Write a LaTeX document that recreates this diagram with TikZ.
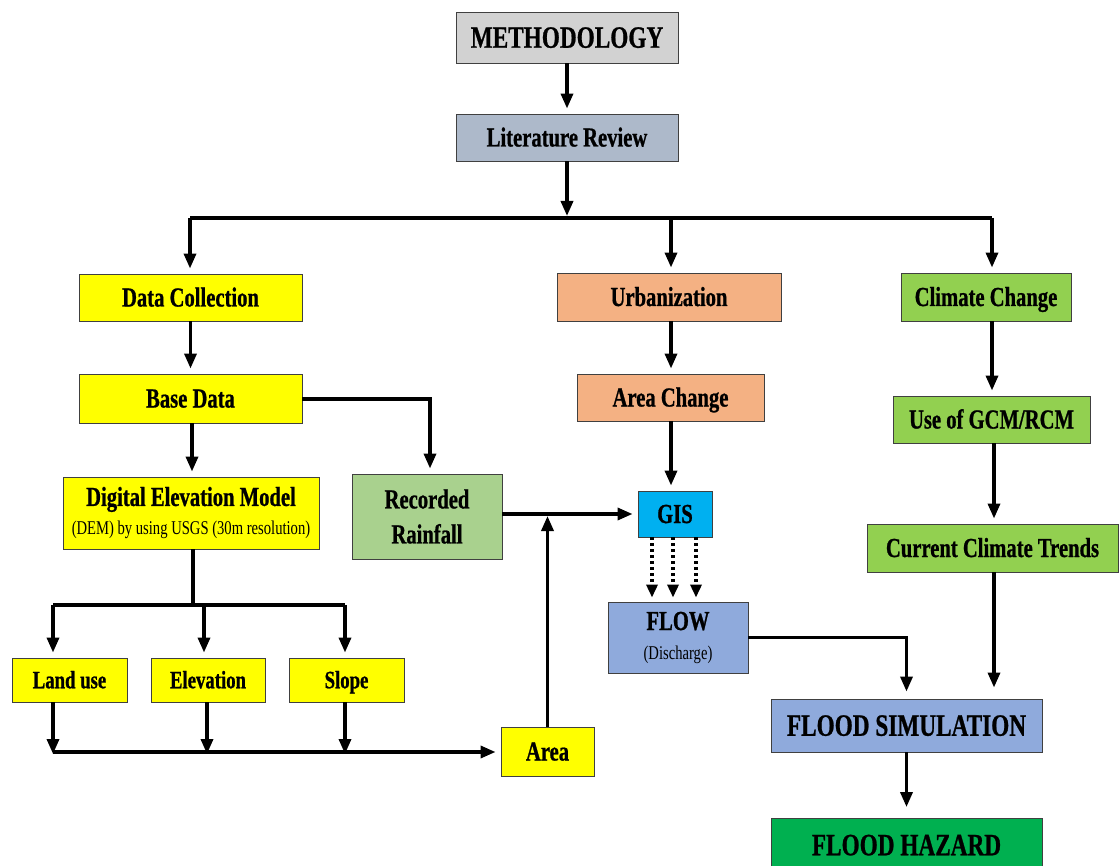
\documentclass[tikz,border=0pt]{standalone}
\usepackage{fontspec}
\setmainfont{Liberation Serif}[FakeStretch=0.75, BoldFeatures={FakeBold=0.8}]
\usetikzlibrary{arrows.meta}

\definecolor{methgray}{RGB}{210,210,210}
\definecolor{litblue}{RGB}{173,185,202}
\definecolor{ylw}{RGB}{255,255,0}
\definecolor{peach}{RGB}{244,177,131}
\definecolor{lgreen}{RGB}{146,208,80}
\definecolor{sage}{RGB}{169,209,142}
\definecolor{cyanb}{RGB}{0,176,240}
\definecolor{periw}{RGB}{143,170,220}
\definecolor{dgreen}{RGB}{0,176,80}

\begin{document}
\begin{tikzpicture}[x=1pt,y=-1pt,
  box/.style={draw=black!75, line width=0.9pt, inner sep=0pt, align=center,
    font=\bfseries\fontsize{27.5}{33}\selectfont},
  oneline/.style={text height=#1, text depth=0pt},
  oneline/.default=18pt,
  wh/.style 2 args={minimum width=#1, minimum height=#2},
  bigtxt/.style={font=\bfseries\fontsize{31}{36}\selectfont, oneline=20.5pt},
  smalltxt/.style={font=\bfseries\fontsize{25}{30}\selectfont, oneline=16.5pt},
  line/.style={line width=3.4pt},
  conn/.style={line width=3.4pt, -{Triangle[length=15pt,width=12pt]}},
  gapconn/.style={conn, shorten >=5pt},
  dotconn/.style={line width=3.4pt, dash pattern=on 3pt off 3pt,
    -{Triangle[length=13pt,width=11pt]}, shorten >=4pt},
]
\useasboundingbox (0,0) rectangle (1119,866);
\clip (0,0) rectangle (1119,866);

% ---- boxes ----
\node[box, bigtxt, fill=methgray, wh={222pt}{51pt}] (meth) at (567,37.5) {METHODOLOGY};
\node[box, oneline, fill=litblue, wh={222pt}{47pt}] (lit) at (567,137.5) {Literature Review};

\node[box, oneline, fill=ylw, wh={223pt}{47pt}] (datacol) at (190.5,297.5) {Data Collection};
\node[box, oneline, fill=peach, wh={224pt}{48pt}] (urban) at (669,297) {Urbanization};
\node[box, oneline, fill=lgreen, wh={170pt}{48pt}] (climate) at (986,297) {Climate Change};

\node[box, oneline, fill=ylw, wh={223pt}{49pt}] (base) at (190.5,398.5) {Base Data};
\node[box, oneline, fill=peach, wh={187pt}{47pt}] (areachg) at (670.5,397.5) {Area Change};
\node[box, oneline, fill=lgreen, wh={197pt}{47pt}] (gcm) at (991.5,419.5) {Use of GCM/RCM};

\node[box, fill=ylw, wh={256pt}{72pt}] (dem) at (191,513)
  {Digital Elevation Model\\[-4pt]{\mdseries\fontsize{19.5}{22}\selectfont (DEM) by using USGS (30m resolution)}};
\node[box, fill=sage, wh={150pt}{85pt}, font=\bfseries\fontsize{27.5}{35}\selectfont] (rain) at (427,516.5)
  {Recorded\\Rainfall};
\node[box, oneline, fill=cyanb, wh={74pt}{46pt}] (gis) at (675,514) {GIS};
\node[box, oneline, fill=lgreen, wh={251pt}{48pt}] (cct) at (992.5,548) {Current Climate Trends};

\node[box, fill=periw, wh={140pt}{71pt}] (flow) at (678,637.5)
  {FLOW\\[-4pt]{\mdseries\fontsize{19.5}{22}\selectfont (Discharge)}};

\node[box, smalltxt, fill=ylw, wh={115pt}{44pt}] (landuse) at (69.5,680) {Land use};
\node[box, smalltxt, fill=ylw, wh={114pt}{44pt}] (elev) at (208,680) {Elevation};
\node[box, smalltxt, fill=ylw, wh={115pt}{44pt}] (slope) at (346.5,680) {Slope};
\node[box, oneline, fill=ylw, wh={93pt}{49pt}] (area) at (547.5,751.5) {Area};

\node[box, bigtxt, fill=periw, wh={271pt}{53pt}] (fsim) at (906.5,725.5) {FLOOD SIMULATION};
\node[box, bigtxt, fill=dgreen, wh={271pt}{53pt}] (fhaz) at (906.5,845) {FLOOD HAZARD};

% ---- junction points ----
\coordinate (hub) at (567,216);
\coordinate (brL) at (190,218);
\coordinate (brM) at (671,218);
\coordinate (brR) at (992,218);
\coordinate (colR) at (994,0);
\coordinate (rainTurn) at (430,399);
\coordinate (demL) at (53,605);
\coordinate (demM) at (204,605);
\coordinate (demR) at (345,605);
\coordinate (botL) at (53,752);
\coordinate (botM) at (207,752);
\coordinate (botR) at (345,752);
\coordinate (areaUp) at (547.5,516);

% ---- top trunk ----
\draw[gapconn] (meth) -- (lit);
\draw[conn] (lit) -- (hub);
\draw[line] (brL) -- (brR);
\draw[gapconn] (brL) -- (brL |- datacol.north);
\draw[gapconn] (brM) -- (brM |- urban.north);
\draw[gapconn] (brR) -- (brR |- climate.north);

% ---- data collection branch ----
\draw[gapconn] (datacol) -- (base);
\draw[gapconn] ([xshift=1.5pt]base.south) -- ([xshift=1.5pt]base.south |- dem.north);
\draw[gapconn] (base.east |- rainTurn) -- (rainTurn) -- (rainTurn |- rain.north);
\draw[line] ([xshift=2pt]dem.south) -- ([xshift=2pt]dem.south |- demM);
\draw[line] (demL) -- (demR);
\draw[gapconn] (demL) -- (demL |- landuse.north);
\draw[gapconn] (demM) -- (demM |- elev.north);
\draw[gapconn] (demR) -- (demR |- slope.north);
\draw[conn] (botL |- landuse.south) -- ([yshift=-2pt]botL);
\draw[conn] (botM |- elev.south) -- ([yshift=-2pt]botM);
\draw[conn] (botR |- slope.south) -- ([yshift=-2pt]botR);
\draw[gapconn] (botL) -- (area.west |- botL);
\draw[conn] (area.north) -- (areaUp);
\draw[gapconn] (rain.east |- gis.west) -- (gis.west);

% ---- urbanization branch ----
\draw[gapconn] (brM |- urban.south) -- (brM |- areachg.north);
\draw[gapconn] (brM |- areachg.south) -- (brM |- gis.north);
\foreach \dx in {-23,-2,21}
  \draw[dotconn] ([xshift=\dx pt]gis.south) -- ([xshift=\dx pt]gis.south |- flow.north);
\draw[conn, shorten >=7pt] (flow.east) -| (fsim.north);

% ---- climate branch ----
\draw[gapconn] (brR |- climate.south) -- (brR |- gcm.north);
\draw[gapconn] (colR |- gcm.south) -- (colR |- cct.north);
\draw[conn, shorten >=11pt] (colR |- cct.south) -- (colR |- fsim.north);
\draw[conn, shorten >=11pt] (fsim) -- (fhaz);
\end{tikzpicture}
\end{document}
